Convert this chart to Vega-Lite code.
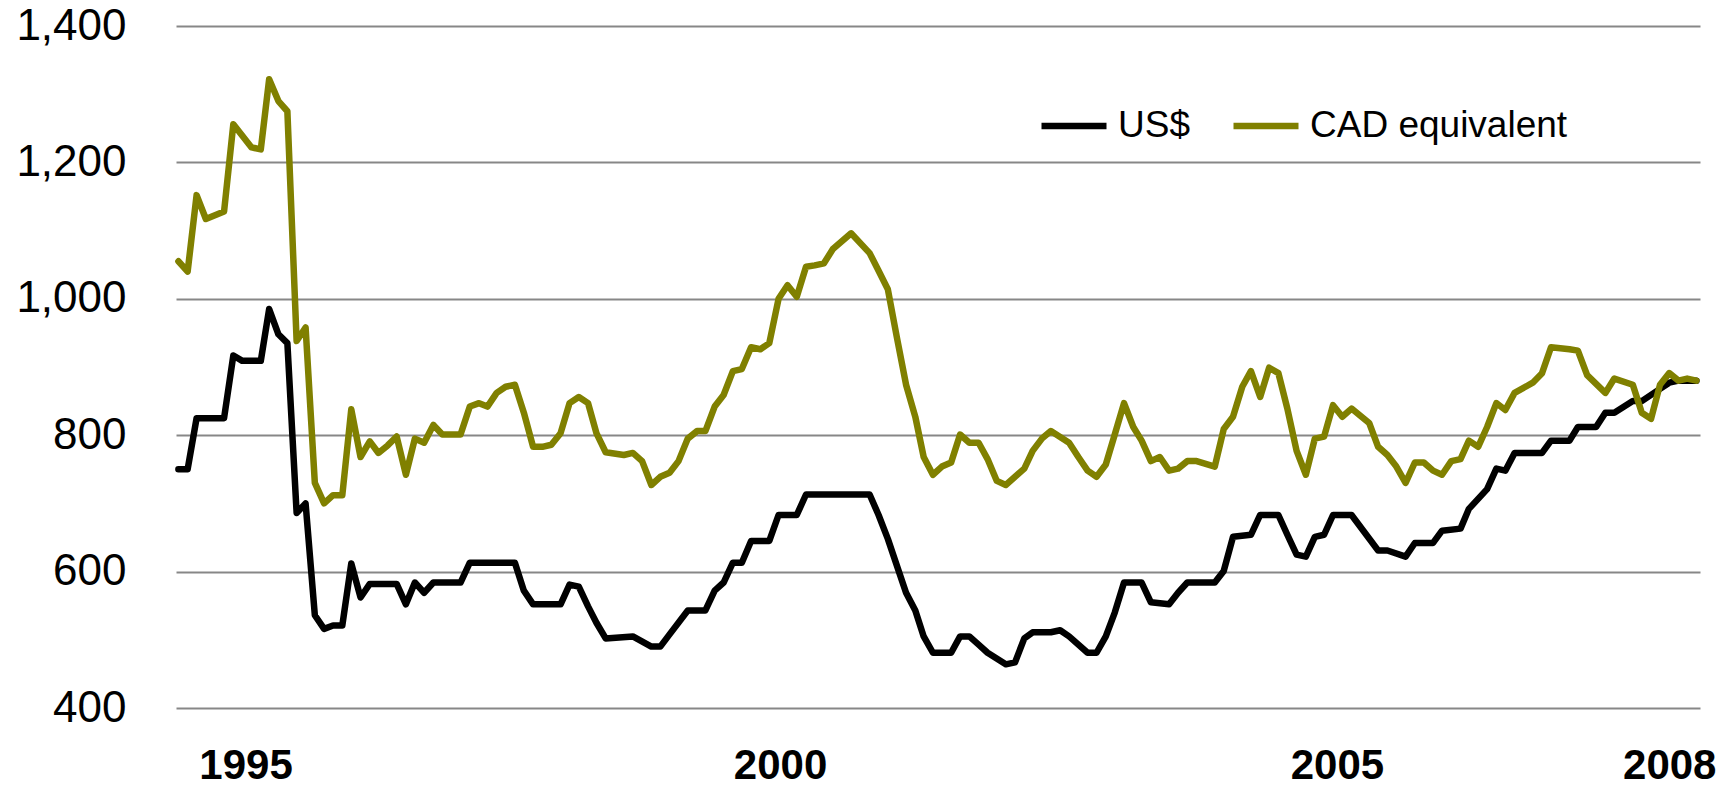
{
  "$schema": "https://vega.github.io/schema/vega-lite/v6.json",
  "width": 1524,
  "height": 682,
  "autosize": "none",
  "padding": {"left": 176, "top": 26, "right": 31, "bottom": 79},
  "background": "white",
  "data": {
    "values": [
      {"date": "1994-05-01", "series": "US$", "value": 750},
      {"date": "1994-06-01", "series": "US$", "value": 750},
      {"date": "1994-07-01", "series": "US$", "value": 825},
      {"date": "1994-10-01", "series": "US$", "value": 825},
      {"date": "1994-11-01", "series": "US$", "value": 917},
      {"date": "1994-12-01", "series": "US$", "value": 909},
      {"date": "1995-02-01", "series": "US$", "value": 909},
      {"date": "1995-03-01", "series": "US$", "value": 985},
      {"date": "1995-04-01", "series": "US$", "value": 948},
      {"date": "1995-05-01", "series": "US$", "value": 935},
      {"date": "1995-06-01", "series": "US$", "value": 686},
      {"date": "1995-07-01", "series": "US$", "value": 700},
      {"date": "1995-08-01", "series": "US$", "value": 536},
      {"date": "1995-09-01", "series": "US$", "value": 516},
      {"date": "1995-10-01", "series": "US$", "value": 521},
      {"date": "1995-11-01", "series": "US$", "value": 521},
      {"date": "1995-12-01", "series": "US$", "value": 612},
      {"date": "1996-01-01", "series": "US$", "value": 562},
      {"date": "1996-02-01", "series": "US$", "value": 582},
      {"date": "1996-05-01", "series": "US$", "value": 582},
      {"date": "1996-06-01", "series": "US$", "value": 552},
      {"date": "1996-07-01", "series": "US$", "value": 584},
      {"date": "1996-08-01", "series": "US$", "value": 569},
      {"date": "1996-09-01", "series": "US$", "value": 584},
      {"date": "1996-12-01", "series": "US$", "value": 584},
      {"date": "1997-01-01", "series": "US$", "value": 613},
      {"date": "1997-06-01", "series": "US$", "value": 613},
      {"date": "1997-07-01", "series": "US$", "value": 572},
      {"date": "1997-08-01", "series": "US$", "value": 552},
      {"date": "1997-11-01", "series": "US$", "value": 552},
      {"date": "1997-12-01", "series": "US$", "value": 581},
      {"date": "1998-01-01", "series": "US$", "value": 578},
      {"date": "1998-02-01", "series": "US$", "value": 549},
      {"date": "1998-03-01", "series": "US$", "value": 525},
      {"date": "1998-04-01", "series": "US$", "value": 502},
      {"date": "1998-07-01", "series": "US$", "value": 505},
      {"date": "1998-09-01", "series": "US$", "value": 490},
      {"date": "1998-10-01", "series": "US$", "value": 490},
      {"date": "1998-11-01", "series": "US$", "value": 508},
      {"date": "1999-01-01", "series": "US$", "value": 543},
      {"date": "1999-03-01", "series": "US$", "value": 543},
      {"date": "1999-04-01", "series": "US$", "value": 572},
      {"date": "1999-05-01", "series": "US$", "value": 584},
      {"date": "1999-06-01", "series": "US$", "value": 613},
      {"date": "1999-07-01", "series": "US$", "value": 613},
      {"date": "1999-08-01", "series": "US$", "value": 645},
      {"date": "1999-10-01", "series": "US$", "value": 645},
      {"date": "1999-11-01", "series": "US$", "value": 683},
      {"date": "2000-01-01", "series": "US$", "value": 683},
      {"date": "2000-02-01", "series": "US$", "value": 713},
      {"date": "2000-09-01", "series": "US$", "value": 713},
      {"date": "2000-10-01", "series": "US$", "value": 683},
      {"date": "2000-11-01", "series": "US$", "value": 648},
      {"date": "2001-01-01", "series": "US$", "value": 569},
      {"date": "2001-02-01", "series": "US$", "value": 543},
      {"date": "2001-03-01", "series": "US$", "value": 505},
      {"date": "2001-04-01", "series": "US$", "value": 481},
      {"date": "2001-06-01", "series": "US$", "value": 481},
      {"date": "2001-07-01", "series": "US$", "value": 505},
      {"date": "2001-08-01", "series": "US$", "value": 505},
      {"date": "2001-09-01", "series": "US$", "value": 493},
      {"date": "2001-10-01", "series": "US$", "value": 481},
      {"date": "2001-12-01", "series": "US$", "value": 464},
      {"date": "2002-01-01", "series": "US$", "value": 467},
      {"date": "2002-02-01", "series": "US$", "value": 502},
      {"date": "2002-03-01", "series": "US$", "value": 511},
      {"date": "2002-05-01", "series": "US$", "value": 511},
      {"date": "2002-06-01", "series": "US$", "value": 514},
      {"date": "2002-07-01", "series": "US$", "value": 505},
      {"date": "2002-09-01", "series": "US$", "value": 481},
      {"date": "2002-10-01", "series": "US$", "value": 481},
      {"date": "2002-11-01", "series": "US$", "value": 505},
      {"date": "2002-12-01", "series": "US$", "value": 540},
      {"date": "2003-01-01", "series": "US$", "value": 584},
      {"date": "2003-03-01", "series": "US$", "value": 584},
      {"date": "2003-04-01", "series": "US$", "value": 555},
      {"date": "2003-06-01", "series": "US$", "value": 552},
      {"date": "2003-07-01", "series": "US$", "value": 569},
      {"date": "2003-08-01", "series": "US$", "value": 584},
      {"date": "2003-11-01", "series": "US$", "value": 584},
      {"date": "2003-12-01", "series": "US$", "value": 601},
      {"date": "2004-01-01", "series": "US$", "value": 651},
      {"date": "2004-03-01", "series": "US$", "value": 654},
      {"date": "2004-04-01", "series": "US$", "value": 683},
      {"date": "2004-06-01", "series": "US$", "value": 683},
      {"date": "2004-07-01", "series": "US$", "value": 654},
      {"date": "2004-08-01", "series": "US$", "value": 625},
      {"date": "2004-09-01", "series": "US$", "value": 622},
      {"date": "2004-10-01", "series": "US$", "value": 651},
      {"date": "2004-11-01", "series": "US$", "value": 654},
      {"date": "2004-12-01", "series": "US$", "value": 683},
      {"date": "2005-02-01", "series": "US$", "value": 683},
      {"date": "2005-05-01", "series": "US$", "value": 631},
      {"date": "2005-06-01", "series": "US$", "value": 631},
      {"date": "2005-08-01", "series": "US$", "value": 622},
      {"date": "2005-09-01", "series": "US$", "value": 642},
      {"date": "2005-11-01", "series": "US$", "value": 642},
      {"date": "2005-12-01", "series": "US$", "value": 660},
      {"date": "2006-02-01", "series": "US$", "value": 663},
      {"date": "2006-03-01", "series": "US$", "value": 692},
      {"date": "2006-05-01", "series": "US$", "value": 721},
      {"date": "2006-06-01", "series": "US$", "value": 751},
      {"date": "2006-07-01", "series": "US$", "value": 748},
      {"date": "2006-08-01", "series": "US$", "value": 774},
      {"date": "2006-11-01", "series": "US$", "value": 774},
      {"date": "2006-12-01", "series": "US$", "value": 792},
      {"date": "2007-02-01", "series": "US$", "value": 792},
      {"date": "2007-03-01", "series": "US$", "value": 812},
      {"date": "2007-05-01", "series": "US$", "value": 812},
      {"date": "2007-06-01", "series": "US$", "value": 833},
      {"date": "2007-07-01", "series": "US$", "value": 833},
      {"date": "2007-09-01", "series": "US$", "value": 850},
      {"date": "2007-10-01", "series": "US$", "value": 850},
      {"date": "2007-12-01", "series": "US$", "value": 868},
      {"date": "2008-01-01", "series": "US$", "value": 877},
      {"date": "2008-02-01", "series": "US$", "value": 880},
      {"date": "2008-04-01", "series": "US$", "value": 880},
      {"date": "1994-05-01", "series": "CAD equivalent", "value": 1055},
      {"date": "1994-06-01", "series": "CAD equivalent", "value": 1040},
      {"date": "1994-07-01", "series": "CAD equivalent", "value": 1152},
      {"date": "1994-08-01", "series": "CAD equivalent", "value": 1117},
      {"date": "1994-10-01", "series": "CAD equivalent", "value": 1128},
      {"date": "1994-11-01", "series": "CAD equivalent", "value": 1256},
      {"date": "1995-01-01", "series": "CAD equivalent", "value": 1222},
      {"date": "1995-02-01", "series": "CAD equivalent", "value": 1219},
      {"date": "1995-03-01", "series": "CAD equivalent", "value": 1322},
      {"date": "1995-04-01", "series": "CAD equivalent", "value": 1290},
      {"date": "1995-05-01", "series": "CAD equivalent", "value": 1275},
      {"date": "1995-06-01", "series": "CAD equivalent", "value": 938},
      {"date": "1995-07-01", "series": "CAD equivalent", "value": 958},
      {"date": "1995-08-01", "series": "CAD equivalent", "value": 730},
      {"date": "1995-09-01", "series": "CAD equivalent", "value": 700},
      {"date": "1995-10-01", "series": "CAD equivalent", "value": 712},
      {"date": "1995-11-01", "series": "CAD equivalent", "value": 712},
      {"date": "1995-12-01", "series": "CAD equivalent", "value": 838},
      {"date": "1996-01-01", "series": "CAD equivalent", "value": 768},
      {"date": "1996-02-01", "series": "CAD equivalent", "value": 791},
      {"date": "1996-03-01", "series": "CAD equivalent", "value": 774},
      {"date": "1996-04-01", "series": "CAD equivalent", "value": 785},
      {"date": "1996-05-01", "series": "CAD equivalent", "value": 798},
      {"date": "1996-06-01", "series": "CAD equivalent", "value": 742},
      {"date": "1996-07-01", "series": "CAD equivalent", "value": 795},
      {"date": "1996-08-01", "series": "CAD equivalent", "value": 789},
      {"date": "1996-09-01", "series": "CAD equivalent", "value": 815},
      {"date": "1996-10-01", "series": "CAD equivalent", "value": 801},
      {"date": "1996-12-01", "series": "CAD equivalent", "value": 801},
      {"date": "1997-01-01", "series": "CAD equivalent", "value": 842},
      {"date": "1997-02-01", "series": "CAD equivalent", "value": 847},
      {"date": "1997-03-01", "series": "CAD equivalent", "value": 842},
      {"date": "1997-04-01", "series": "CAD equivalent", "value": 862},
      {"date": "1997-05-01", "series": "CAD equivalent", "value": 871},
      {"date": "1997-06-01", "series": "CAD equivalent", "value": 874},
      {"date": "1997-07-01", "series": "CAD equivalent", "value": 833},
      {"date": "1997-08-01", "series": "CAD equivalent", "value": 783},
      {"date": "1997-09-01", "series": "CAD equivalent", "value": 783},
      {"date": "1997-10-01", "series": "CAD equivalent", "value": 786},
      {"date": "1997-11-01", "series": "CAD equivalent", "value": 803},
      {"date": "1997-12-01", "series": "CAD equivalent", "value": 847},
      {"date": "1998-01-01", "series": "CAD equivalent", "value": 856},
      {"date": "1998-02-01", "series": "CAD equivalent", "value": 847},
      {"date": "1998-03-01", "series": "CAD equivalent", "value": 803},
      {"date": "1998-04-01", "series": "CAD equivalent", "value": 775},
      {"date": "1998-06-01", "series": "CAD equivalent", "value": 771},
      {"date": "1998-07-01", "series": "CAD equivalent", "value": 774},
      {"date": "1998-08-01", "series": "CAD equivalent", "value": 762},
      {"date": "1998-09-01", "series": "CAD equivalent", "value": 727},
      {"date": "1998-10-01", "series": "CAD equivalent", "value": 739},
      {"date": "1998-11-01", "series": "CAD equivalent", "value": 745},
      {"date": "1998-12-01", "series": "CAD equivalent", "value": 762},
      {"date": "1999-01-01", "series": "CAD equivalent", "value": 795},
      {"date": "1999-02-01", "series": "CAD equivalent", "value": 806},
      {"date": "1999-03-01", "series": "CAD equivalent", "value": 806},
      {"date": "1999-04-01", "series": "CAD equivalent", "value": 842},
      {"date": "1999-05-01", "series": "CAD equivalent", "value": 859},
      {"date": "1999-06-01", "series": "CAD equivalent", "value": 894},
      {"date": "1999-07-01", "series": "CAD equivalent", "value": 897},
      {"date": "1999-08-01", "series": "CAD equivalent", "value": 929},
      {"date": "1999-09-01", "series": "CAD equivalent", "value": 926},
      {"date": "1999-10-01", "series": "CAD equivalent", "value": 935},
      {"date": "1999-11-01", "series": "CAD equivalent", "value": 1000},
      {"date": "1999-12-01", "series": "CAD equivalent", "value": 1020},
      {"date": "2000-01-01", "series": "CAD equivalent", "value": 1003},
      {"date": "2000-02-01", "series": "CAD equivalent", "value": 1047},
      {"date": "2000-03-01", "series": "CAD equivalent", "value": 1049},
      {"date": "2000-04-01", "series": "CAD equivalent", "value": 1052},
      {"date": "2000-05-01", "series": "CAD equivalent", "value": 1073},
      {"date": "2000-07-01", "series": "CAD equivalent", "value": 1096},
      {"date": "2000-09-01", "series": "CAD equivalent", "value": 1067},
      {"date": "2000-10-01", "series": "CAD equivalent", "value": 1041},
      {"date": "2000-11-01", "series": "CAD equivalent", "value": 1014},
      {"date": "2000-12-01", "series": "CAD equivalent", "value": 944},
      {"date": "2001-01-01", "series": "CAD equivalent", "value": 874},
      {"date": "2001-02-01", "series": "CAD equivalent", "value": 827},
      {"date": "2001-03-01", "series": "CAD equivalent", "value": 768},
      {"date": "2001-04-01", "series": "CAD equivalent", "value": 742},
      {"date": "2001-05-01", "series": "CAD equivalent", "value": 754},
      {"date": "2001-06-01", "series": "CAD equivalent", "value": 760},
      {"date": "2001-07-01", "series": "CAD equivalent", "value": 801},
      {"date": "2001-08-01", "series": "CAD equivalent", "value": 789},
      {"date": "2001-09-01", "series": "CAD equivalent", "value": 789},
      {"date": "2001-10-01", "series": "CAD equivalent", "value": 765},
      {"date": "2001-11-01", "series": "CAD equivalent", "value": 733},
      {"date": "2001-12-01", "series": "CAD equivalent", "value": 727},
      {"date": "2002-02-01", "series": "CAD equivalent", "value": 751},
      {"date": "2002-03-01", "series": "CAD equivalent", "value": 777},
      {"date": "2002-04-01", "series": "CAD equivalent", "value": 795},
      {"date": "2002-05-01", "series": "CAD equivalent", "value": 806},
      {"date": "2002-07-01", "series": "CAD equivalent", "value": 789},
      {"date": "2002-08-01", "series": "CAD equivalent", "value": 768},
      {"date": "2002-09-01", "series": "CAD equivalent", "value": 748},
      {"date": "2002-10-01", "series": "CAD equivalent", "value": 739},
      {"date": "2002-11-01", "series": "CAD equivalent", "value": 757},
      {"date": "2002-12-01", "series": "CAD equivalent", "value": 801},
      {"date": "2003-01-01", "series": "CAD equivalent", "value": 847},
      {"date": "2003-02-01", "series": "CAD equivalent", "value": 812},
      {"date": "2003-03-01", "series": "CAD equivalent", "value": 792},
      {"date": "2003-04-01", "series": "CAD equivalent", "value": 762},
      {"date": "2003-05-01", "series": "CAD equivalent", "value": 768},
      {"date": "2003-06-01", "series": "CAD equivalent", "value": 748},
      {"date": "2003-07-01", "series": "CAD equivalent", "value": 751},
      {"date": "2003-08-01", "series": "CAD equivalent", "value": 762},
      {"date": "2003-09-01", "series": "CAD equivalent", "value": 762},
      {"date": "2003-11-01", "series": "CAD equivalent", "value": 754},
      {"date": "2003-12-01", "series": "CAD equivalent", "value": 809},
      {"date": "2004-01-01", "series": "CAD equivalent", "value": 827},
      {"date": "2004-02-01", "series": "CAD equivalent", "value": 871},
      {"date": "2004-03-01", "series": "CAD equivalent", "value": 894},
      {"date": "2004-04-01", "series": "CAD equivalent", "value": 856},
      {"date": "2004-05-01", "series": "CAD equivalent", "value": 899},
      {"date": "2004-06-01", "series": "CAD equivalent", "value": 891},
      {"date": "2004-07-01", "series": "CAD equivalent", "value": 839},
      {"date": "2004-08-01", "series": "CAD equivalent", "value": 777},
      {"date": "2004-09-01", "series": "CAD equivalent", "value": 742},
      {"date": "2004-10-01", "series": "CAD equivalent", "value": 795},
      {"date": "2004-11-01", "series": "CAD equivalent", "value": 798},
      {"date": "2004-12-01", "series": "CAD equivalent", "value": 844},
      {"date": "2005-01-01", "series": "CAD equivalent", "value": 827},
      {"date": "2005-02-01", "series": "CAD equivalent", "value": 839},
      {"date": "2005-04-01", "series": "CAD equivalent", "value": 818},
      {"date": "2005-05-01", "series": "CAD equivalent", "value": 783},
      {"date": "2005-06-01", "series": "CAD equivalent", "value": 771},
      {"date": "2005-07-01", "series": "CAD equivalent", "value": 754},
      {"date": "2005-08-01", "series": "CAD equivalent", "value": 730},
      {"date": "2005-09-01", "series": "CAD equivalent", "value": 760},
      {"date": "2005-10-01", "series": "CAD equivalent", "value": 760},
      {"date": "2005-11-01", "series": "CAD equivalent", "value": 748},
      {"date": "2005-12-01", "series": "CAD equivalent", "value": 742},
      {"date": "2006-01-01", "series": "CAD equivalent", "value": 762},
      {"date": "2006-02-01", "series": "CAD equivalent", "value": 765},
      {"date": "2006-03-01", "series": "CAD equivalent", "value": 792},
      {"date": "2006-04-01", "series": "CAD equivalent", "value": 783},
      {"date": "2006-05-01", "series": "CAD equivalent", "value": 812},
      {"date": "2006-06-01", "series": "CAD equivalent", "value": 847},
      {"date": "2006-07-01", "series": "CAD equivalent", "value": 837},
      {"date": "2006-08-01", "series": "CAD equivalent", "value": 862},
      {"date": "2006-10-01", "series": "CAD equivalent", "value": 877},
      {"date": "2006-11-01", "series": "CAD equivalent", "value": 891},
      {"date": "2006-12-01", "series": "CAD equivalent", "value": 929},
      {"date": "2007-02-01", "series": "CAD equivalent", "value": 926},
      {"date": "2007-03-01", "series": "CAD equivalent", "value": 924},
      {"date": "2007-04-01", "series": "CAD equivalent", "value": 888},
      {"date": "2007-06-01", "series": "CAD equivalent", "value": 862},
      {"date": "2007-07-01", "series": "CAD equivalent", "value": 883},
      {"date": "2007-09-01", "series": "CAD equivalent", "value": 874},
      {"date": "2007-10-01", "series": "CAD equivalent", "value": 833},
      {"date": "2007-11-01", "series": "CAD equivalent", "value": 824},
      {"date": "2007-12-01", "series": "CAD equivalent", "value": 874},
      {"date": "2008-01-01", "series": "CAD equivalent", "value": 891},
      {"date": "2008-02-01", "series": "CAD equivalent", "value": 880},
      {"date": "2008-03-01", "series": "CAD equivalent", "value": 883},
      {"date": "2008-04-01", "series": "CAD equivalent", "value": 880}
    ]
  },
  "mark": {"type": "line", "strokeWidth": 6.5, "strokeJoin": "round", "strokeCap": "round"},
  "encoding": {
    "x": {
      "field": "date",
      "type": "temporal",
      "scale": {
        "type": "utc",
        "domain": [
          {"year": 1994, "month": 4, "date": 23, "utc": true},
          {"year": 2008, "month": 4, "date": 13, "utc": true}
        ]
      },
      "axis": {
        "title": null,
        "values": [
          {"year": 1994, "month": 12, "date": 12, "utc": true},
          {"year": 1999, "month": 11, "date": 6, "utc": true},
          {"year": 2004, "month": 12, "date": 14, "utc": true},
          {"year": 2008, "month": 1, "date": 1, "utc": true}
        ],
        "labelExpr": "utcyear(datum.value) + (utcmonth(datum.value) >= 10 ? 1 : 0)",
        "grid": false,
        "domain": false,
        "ticks": false,
        "labelFont": "Liberation Sans",
        "labelFontSize": 42,
        "labelFontWeight": "bold",
        "labelColor": "#000000",
        "labelPadding": 37,
        "labelFlush": false,
        "labelOverlap": false
      }
    },
    "y": {
      "field": "value",
      "type": "quantitative",
      "scale": {"domain": [400, 1400], "nice": false, "zero": false},
      "axis": {
        "title": null,
        "values": [400, 600, 800, 1000, 1200, 1400],
        "format": ",d",
        "grid": true,
        "gridColor": "#878787",
        "gridWidth": 2,
        "domain": false,
        "ticks": false,
        "labelFont": "Liberation Sans",
        "labelFontSize": 44,
        "labelColor": "#000000",
        "labelPadding": 50
      }
    },
    "color": {
      "field": "series",
      "type": "nominal",
      "sort": ["US$", "CAD equivalent"],
      "scale": {"domain": ["US$", "CAD equivalent"], "range": ["#000000", "#808000"]},
      "legend": {
        "title": null,
        "orient": "none",
        "legendX": 862,
        "legendY": 64,
        "direction": "horizontal",
        "symbolType": "stroke",
        "symbolSize": 4225,
        "symbolStrokeWidth": 6.5,
        "labelFont": "Liberation Sans",
        "labelFontSize": 37,
        "labelColor": "#000000",
        "labelLimit": 600,
        "labelOffset": 8,
        "columnPadding": 30,
        "padding": 0
      }
    }
  },
  "config": {"view": {"stroke": null}}
}
